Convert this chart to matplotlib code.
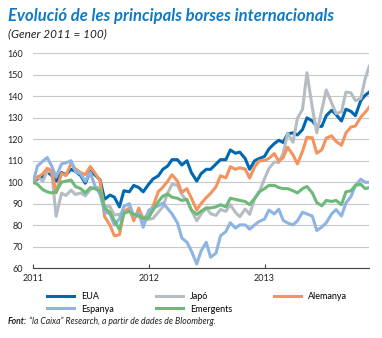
import numpy as np
import pandas as pd
import matplotlib
matplotlib.use("Agg")
import matplotlib.pyplot as plt
import matplotlib.dates as mdates

plt.rcParams['font.family'] = ['Lato', 'DejaVu Sans']

# Semi-monthly observations, Jan 2011 .. end Nov 2013 (Gener 2011 = 100)
dates = list(pd.date_range('2011-01-01', periods=70, freq='SMS')) + [pd.Timestamp('2013-11-28')]

eua = [100, 101.5, 102.5, 105, 103, 100.5, 104.5, 103.5, 106, 105,
       103, 99.5, 105, 103.5, 101, 92, 94, 93, 88.5, 96,
       95.5, 98.5, 97.5, 95.5, 99, 101.5, 103, 106, 107.5, 110.5,
       110.5, 108, 110, 104.5, 100.5, 104, 106, 106, 108.5, 110.5,
       110.5, 115, 113.5, 114, 111, 106, 110, 111, 112, 115.5,
       118, 119.5, 118.5, 122.5, 123, 122, 124.5, 130, 128.5, 126,
       126, 131, 133.5, 131.5, 128.5, 134, 133, 131, 138, 140.5,
       142]
japo = [100, 102.6, 100.4, 105, 105, 84.1, 94.9, 93.8, 96.3, 94.3,
        95, 93.6, 96.5, 97.5, 97.4, 88.8, 88.6, 84.7, 85, 85.5,
        86.4, 84.1, 84, 81.9, 82.7, 83.1, 86.1, 88.5, 94.9, 99,
        98.6, 94.2, 91.4, 87, 82, 85.2, 88, 85.3, 84.5, 87.3,
        86.4, 89.5, 86, 83.9, 87.5, 85, 92.3, 95.2, 101.6, 106.4,
        109.4, 109.2, 113.5, 122.8, 118.6, 129.8, 133.9, 151, 134.7, 123,
        133.7, 143, 136.9, 132, 132.7, 142, 141.6, 138, 139, 148.3,
        154]
alemanya = [100, 102.3, 103.9, 106.5, 105.2, 95, 104.1, 103.1, 108.7, 106.2,
            104.4, 103.5, 107.3, 104.4, 100.6, 84, 80, 75, 75.5, 86.3,
            88, 82, 87.9, 82.9, 85.3, 88.8, 95.7, 97.6, 100.4, 103.5,
            100.5, 95.2, 97, 92.6, 87, 90.1, 92.8, 94.8, 97.9, 103,
            102, 107.2, 106, 106.7, 106.1, 101.9, 107.1, 109.9, 110.1, 111.1,
            113.3, 109.8, 111.5, 116.3, 112.7, 108.5, 114.4, 120.9, 120.7, 113.5,
            115.1, 120.5, 121.6, 119, 117.2, 122.9, 125.7, 126.2, 130.3, 132.6,
            135]
espanya = [100, 107.5, 109.8, 111.5, 107.5, 102.4, 108.5, 109, 110, 105,
           103.7, 100.4, 104.5, 98.4, 94.3, 86.2, 85.2, 80, 83, 88.7,
           90, 84.2, 85.7, 79, 86.9, 88, 89, 90.3, 87.7, 85.2,
           81.1, 74, 72, 68, 61.9, 68, 72, 65, 67, 75,
           77, 81.1, 78.6, 80.1, 80.1, 78.1, 80.1, 81.7, 82.8, 87,
           85.2, 87.4, 82.2, 81, 80.1, 82, 86, 85.2, 84.2, 77.5,
           79.1, 81.1, 85.2, 87.2, 84.2, 90.3, 93.3, 98.4, 101.4, 99.9,
           100]
emergents = [100, 99, 96.5, 95.5, 95, 95.5, 100, 100.5, 101, 98,
             97, 95, 97.5, 97, 96, 88, 86, 82, 78, 85.5,
             86.5, 85, 84.5, 83, 83.5, 87, 91, 93.5, 94.5, 93,
             92.5, 91.5, 92, 87, 85, 86.5, 88, 88, 88.5, 89.5,
             88.5, 92.5, 92, 91.5, 91, 89.5, 92.5, 95.5, 97, 98.5,
             98.5, 97.5, 97, 97, 96, 95, 97, 98, 95, 90.5,
             89, 91.5, 91, 91.5, 89.5, 95.5, 96, 98.5, 99, 97,
             97.5]

series = [
    ('EUA', eua, '#0068b1'),
    ('Japó', japo, '#b5bdc2'),
    ('Alemanya', alemanya, '#f4935e'),
    ('Espanya', espanya, '#8db4e2'),
    ('Emergents', emergents, '#6cb978'),
]
y_ticks = [60, 70, 80, 90, 100, 110, 120, 130, 140, 150, 160]
year_ticks = ['2011', '2012', '2013']

fig = plt.figure(figsize=(3.82, 3.38), dpi=100)
ax = fig.add_axes([0.0864, 0.207, 0.8796, 0.635])

handles = {}
for name, vals, col in series:
    line, = ax.plot(dates, vals, color=col, lw=2.2, solid_joinstyle='round')
    handles[name] = line

ax.set_ylim(60, 160)
ax.set_yticks(y_ticks)
ax.set_xlim(pd.Timestamp('2011-01-01'), pd.Timestamp('2013-11-27'))
ax.set_xticks([pd.Timestamp(y + '-01-01') for y in year_ticks])
ax.xaxis.set_major_formatter(mdates.DateFormatter('%Y'))
ax.grid(axis='y', color='#c8c8c8', lw=0.8)
ax.set_axisbelow(True)
for s in ['top', 'right', 'left']:
    ax.spines[s].set_visible(False)
ax.spines['bottom'].set_color('#444444')
ax.spines['bottom'].set_linewidth(0.8)
ax.tick_params(axis='y', length=0, pad=7, labelsize=6.5, labelcolor='#222222')
ax.tick_params(axis='x', direction='in', length=3, width=0.8, color='#444444',
               pad=4, labelsize=6.5, labelcolor='#222222')

# legend: column-major order gives rows EUA/Japó/Alemanya, Espanya/Emergents
order = ['EUA', 'Espanya', 'Japó', 'Emergents', 'Alemanya']
fig.legend([handles[k] for k in order], order, ncol=3, frameon=False,
           loc='upper left', bbox_to_anchor=(0.123, 0.135),
           fontsize=6.5, handlelength=3.0, handletextpad=0.8,
           columnspacing=4.6, labelspacing=0.35, borderpad=0, borderaxespad=0)

fig.text(0.02, 0.977, 'Evolució de les principals borses internacionals',
         color='#0f7ac4', fontsize=12, fontweight='bold', fontstyle='italic',
         va='top', ha='left')
fig.text(0.02, 0.9, '(Gener 2011 = 100)', color='#222222', fontsize=8.5,
         fontstyle='italic', va='center', ha='left')

t1 = fig.text(0.02, 0.04, 'Font:', fontsize=6.2, fontweight='bold',
              fontstyle='italic', color='#222222', va='baseline', ha='left')
ax.annotate(' \u201cla Caixa\u201d Research, a partir de dades de Bloomberg.',
            xy=(1, 0), xycoords=t1, va='bottom', ha='left', fontsize=6.2,
            fontstyle='italic', color='#222222', annotation_clip=False)

fig.savefig('out.png', dpi=100)
